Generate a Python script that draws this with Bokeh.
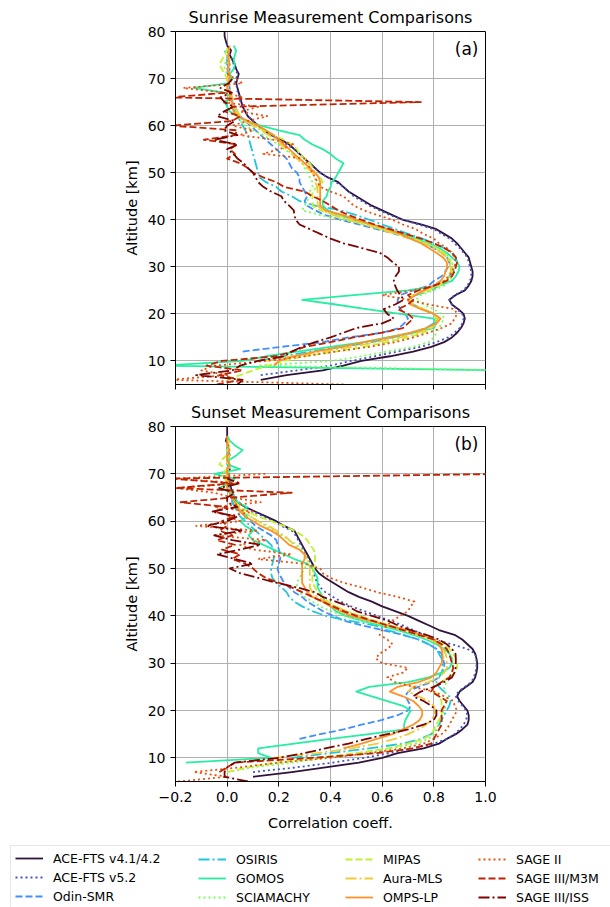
from bokeh.plotting import figure
from bokeh.layouts import column
from bokeh.models import (Range1d, FixedTicker, Label, Legend, LegendItem,
                          CustomLabelingPolicy)
from bokeh.palettes import turbo
from bokeh.embed import file_html
from bokeh.resources import INLINE

N = float("nan")

# altitude grid shared by every profile [km]
ALTITUDE = list(range(5, 81))

INSTRUMENTS = ["ACE-FTS v4.1/4.2", "ACE-FTS v5.2", "Odin-SMR", "OSIRIS", "GOMOS",
               "SCIAMACHY", "MIPAS", "Aura-MLS", "OMPS-LP", "SAGE II",
               "SAGE III/M3M", "SAGE III/ISS"]

X_TICKS = [-0.2, 0.0, 0.2, 0.4, 0.6, 0.8, 1.0]
X_TICK_LABELS = ["\u22120.2", "0.0", "0.2", "0.4", "0.6", "0.8", "1.0"]
Y_TICKS = [10, 20, 30, 40, 50, 60, 70, 80]

# ---- sunrise correlation profiles (5..80 km, 1 km steps) ----
sr_ace_v41 = [N, 0.13, 0.23, 0.37, 0.45, 0.52, 0.63, 0.72, 0.79, 0.84,
              0.87, 0.89, 0.905, 0.915, 0.92, 0.915, 0.895, 0.87, 0.86, 0.885,
              0.92, 0.935, 0.945, 0.95, 0.95, 0.945, 0.94, 0.935, 0.92, 0.905,
              0.89, 0.87, 0.84, 0.81, 0.75, 0.68, 0.64, 0.60, 0.56, 0.53,
              0.50, 0.47, 0.45, 0.43, 0.39, 0.36, 0.34, 0.32, 0.30, 0.28,
              0.26, 0.24, 0.21, 0.17, 0.14, 0.12, 0.10, 0.08, 0.07, 0.06,
              0.055, 0.05, 0.045, 0.04, 0.035, 0.04, 0.045, 0.035, 0.03, 0.02,
              0.01, 0.015, 0.0, -0.005, -0.01, -0.01]
sr_ace_v52 = [N, N, 0.13, 0.27, 0.40, 0.48, 0.57, 0.66, 0.75, 0.81,
              0.855, 0.88, 0.90, 0.91, 0.915, 0.91, 0.89, 0.87, 0.86, 0.88,
              0.915, 0.93, 0.94, 0.945, 0.945, 0.94, 0.935, 0.93, 0.915, 0.90,
              0.88, 0.86, 0.83, 0.80, 0.74, 0.68, 0.63, 0.59, 0.55, 0.52,
              0.49, 0.47, 0.45, 0.42, 0.39, 0.36, 0.34, 0.32, 0.30, 0.28,
              0.26, 0.23, 0.20, 0.17, 0.14, 0.12, 0.10, 0.08, 0.07, 0.06,
              0.05, 0.05, 0.04, 0.04, 0.03, 0.035, 0.04, 0.03, 0.025, 0.02,
              0.01, 0.01, 0.0, -0.005, N, N]
sr_odin = [N, N, N, N, N, N, N, 0.06, 0.21, 0.37,
           0.47, 0.60, 0.665, 0.685, 0.70, 0.69, 0.67, 0.66, 0.66, 0.67,
           0.72, 0.78, 0.80, 0.83, 0.845, 0.855, 0.86, 0.85, 0.83, 0.80,
           0.76, 0.71, 0.65, 0.58, 0.51, 0.44, 0.38, 0.34, 0.31, 0.30,
           0.31, 0.30, 0.29, 0.28, 0.28, 0.27, 0.25, 0.24, 0.23, 0.21,
           0.19, 0.17, 0.15, 0.13, 0.11, 0.09, 0.07, 0.05, 0.04, 0.03,
           0.02, 0.015, 0.01, 0.01, 0.005, 0.01, 0.0, 0.01, 0.0, 0.0,
           0.005, 0.0, N, N, N, N]
sr_osiris = [N, N, N, N, N, 0.12, 0.22, 0.32, 0.45, 0.56,
             0.64, 0.72, 0.77, 0.80, 0.81, 0.80, 0.76, 0.72, 0.70, 0.73,
             0.79, 0.82, 0.84, 0.86, 0.875, 0.885, 0.89, 0.885, 0.87, 0.84,
             0.80, 0.755, 0.70, 0.65, 0.60, 0.55, 0.50, 0.44, 0.34, 0.28,
             0.25, 0.21, 0.19, 0.15, 0.125, 0.12, 0.115, 0.11, 0.105, 0.10,
             0.095, 0.09, 0.085, 0.08, 0.07, 0.06, 0.05, 0.04, 0.03, 0.02,
             0.02, 0.01, 0.01, 0.0, 0.01, 0.02, 0.01, 0.0, 0.01, 0.0,
             0.0, -0.01, N, N, N, N]
sr_gomos = [N, N, N, 1.1, -0.25, 0.06, 0.15, 0.27, 0.40, 0.53,
            0.62, 0.72, 0.80, 0.81, 0.80, 0.67, 0.54, 0.42, 0.29, 0.49,
            0.70, 0.82, 0.87, 0.885, 0.895, 0.90, 0.89, 0.87, 0.85, 0.82,
            0.78, 0.73, 0.68, 0.62, 0.56, 0.49, 0.43, 0.39, 0.37, 0.37,
            0.385, 0.39, 0.40, 0.405, 0.42, 0.43, 0.44, 0.45, 0.42, 0.40,
            0.37, 0.33, 0.30, 0.28, 0.20, 0.13, 0.07, 0.04, 0.01, 0.0,
            -0.01, 0.02, -0.01, -0.13, 0.0, 0.02, 0.01, 0.025, 0.03, 0.025,
            0.03, 0.035, 0.025, N, N, N]
sr_sciamachy = [N, N, N, 1.1, 0.12, 0.40, 0.52, 0.62, 0.72, 0.78,
                0.80, 0.81, 0.82, 0.83, 0.84, 0.83, 0.80, 0.76, 0.73, 0.75,
                0.80, 0.84, 0.86, 0.87, 0.875, 0.875, 0.87, 0.86, 0.84, 0.81,
                0.77, 0.72, 0.66, 0.60, 0.53, 0.45, 0.36, 0.29, 0.30, 0.31,
                0.32, 0.32, 0.33, 0.33, 0.32, 0.31, 0.30, 0.29, 0.28, 0.25,
                0.22, 0.20, 0.17, 0.14, 0.10, 0.07, 0.05, 0.04, 0.03, 0.02,
                0.02, 0.01, 0.01, 0.0, 0.0, 0.01, 0.0, -0.01, -0.01, 0.0,
                0.0, 0.01, N, N, N, N]
sr_mipas = [N, 0.0, 0.05, 0.10, 0.16, 0.22, 0.30, 0.42, 0.53, 0.62,
            0.70, 0.76, 0.79, 0.81, 0.81, 0.80, 0.76, 0.72, 0.70, 0.72,
            0.78, 0.82, 0.845, 0.86, 0.87, 0.87, 0.865, 0.855, 0.84, 0.81,
            0.77, 0.72, 0.66, 0.60, 0.54, 0.48, 0.42, 0.36, 0.33, 0.33,
            0.33, 0.33, 0.35, 0.37, 0.36, 0.34, 0.33, 0.32, 0.30, 0.28,
            0.27, 0.25, 0.22, 0.18, 0.14, 0.10, 0.07, 0.05, 0.03, 0.02,
            0.02, 0.01, 0.01, 0.0, 0.0, 0.0, -0.01, -0.02, -0.03, -0.02,
            -0.01, 0.0, 0.0, N, N, N]
sr_aura_mls = [N, N, N, N, N, 0.15, 0.25, 0.37, 0.48, 0.58,
               0.67, 0.74, 0.79, 0.81, 0.815, 0.80, 0.76, 0.72, 0.70, 0.72,
               0.77, 0.81, 0.84, 0.855, 0.865, 0.865, 0.86, 0.85, 0.83, 0.80,
               0.76, 0.71, 0.65, 0.59, 0.53, 0.47, 0.41, 0.37, 0.35, 0.35,
               0.35, 0.35, 0.35, 0.34, 0.34, 0.33, 0.31, 0.29, 0.27, 0.25,
               0.23, 0.21, 0.19, 0.16, 0.13, 0.10, 0.07, 0.05, 0.04, 0.03,
               0.02, 0.02, 0.01, 0.01, 0.0, 0.0, 0.01, 0.01, 0.0, 0.01,
               0.0, 0.01, N, N, N, N]
sr_omps_lp = [N, N, N, N, 0.18, 0.20, 0.26, 0.34, 0.44, 0.53,
              0.63, 0.71, 0.77, 0.81, 0.826, 0.80, 0.75, 0.71, 0.70, 0.73,
              0.76, 0.80, 0.825, 0.84, 0.845, 0.852, 0.85, 0.835, 0.81, 0.78,
              0.75, 0.71, 0.67, 0.62, 0.56, 0.50, 0.45, 0.38, 0.36, 0.36,
              0.36, 0.36, 0.36, 0.36, 0.355, 0.34, 0.32, 0.30, 0.28, 0.26,
              0.24, 0.22, 0.20, 0.18, 0.15, 0.12, 0.08, 0.04, 0.025, 0.02,
              0.02, 0.01, 0.01, 0.0, 0.005, 0.01, 0.01, 0.0, 0.01, 0.005,
              0.005, 0.006, 0.01, N, N, N]
sr_sage2 = [0.45, -0.22, 0.0, -0.1, -0.05, 0.15, 0.30, 0.42, 0.55, 0.65,
            0.72, 0.78, 0.83, 0.87, 0.88, 0.89, 0.88, 0.78, 0.70, 0.60,
            0.72, 0.80, 0.84, 0.86, 0.87, 0.88, 0.885, 0.88, 0.87, 0.85,
            0.82, 0.80, 0.76, 0.73, 0.68, 0.64, 0.58, 0.53, 0.49, 0.47,
            0.45, 0.40, 0.36, 0.35, 0.34, 0.33, 0.32, 0.31, 0.30, 0.14,
            0.20, 0.26, 0.18, 0.05, 0.10, 0.02, 0.08, 0.155, 0.05, 0.12,
            -0.02, 0.06, -0.01, -0.17, 0.06, 0.03, 0.0, N, N, N,
            N, N, N, N, N, N]
sr_sage3_m3m = [-0.04, 0.05, -0.03, 0.06, -0.08, -0.02, 0.19, 0.25, 0.30, 0.40,
                0.49, 0.60, 0.68, 0.70, 0.72, 0.70, 0.66, 0.70, 0.72, 0.70,
                0.74, 0.80, 0.85, 0.87, 0.88, 0.885, 0.89, 0.885, 0.87, 0.84,
                0.80, 0.75, 0.69, 0.63, 0.57, 0.52, 0.47, 0.43, 0.40, 0.37,
                0.33, 0.30, 0.22, 0.19, 0.14, 0.10, 0.08, 0.05, 0.0, 0.03,
                0.01, 0.04, -0.09, 0.03, 0.04, -0.22, 0.02, 0.05, -0.01, 0.02,
                0.75, -0.22, 0.0, N, N, N, N, N, N, N,
                N, N, N, N, N, N]
sr_sage3_iss = [0.04, 0.06, -0.12, 0.02, 0.05, 0.12, 0.22, 0.25, 0.29, 0.34,
                0.40, 0.45, 0.50, 0.60, 0.645, 0.62, 0.606, 0.65, 0.684, 0.67,
                0.658, 0.65, 0.645, 0.652, 0.665, 0.665, 0.64, 0.62, 0.59, 0.52,
                0.45, 0.40, 0.36, 0.32, 0.28, 0.265, 0.26, 0.258, 0.24, 0.22,
                0.21, 0.17, 0.14, 0.12, 0.11, 0.10, 0.08, 0.064, 0.04, 0.025,
                0.0, 0.04, -0.05, 0.04, -0.013, 0.0, 0.03, -0.039, -0.013, 0.025,
                -0.01, -0.026, 0.018, -0.026, 0.006, 0.02, N, N, N, N,
                N, N, N, N, N, N]

# ---- sunset correlation profiles (5..80 km, 1 km steps) ----
ss_ace_v41 = [N, 0.10, 0.25, 0.38, 0.51, 0.60, 0.66, 0.76, 0.82, 0.85,
              0.885, 0.91, 0.93, 0.935, 0.935, 0.93, 0.915, 0.90, 0.89, 0.90,
              0.925, 0.95, 0.96, 0.965, 0.968, 0.968, 0.965, 0.96, 0.95, 0.93,
              0.91, 0.88, 0.82, 0.78, 0.74, 0.70, 0.65, 0.60, 0.56, 0.51,
              0.47, 0.44, 0.41, 0.38, 0.355, 0.34, 0.33, 0.32, 0.31, 0.30,
              0.29, 0.28, 0.27, 0.26, 0.22, 0.19, 0.15, 0.11, 0.07, 0.04,
              0.025, 0.02, 0.015, 0.01, 0.01, 0.005, 0.01, 0.005, 0.0, 0.01,
              0.0, 0.005, -0.005, 0.0, 0.0, 0.0]
ss_ace_v52 = [N, N, 0.10, 0.27, 0.41, 0.53, 0.63, 0.72, 0.80, 0.85,
              0.88, 0.90, 0.915, 0.925, 0.93, 0.925, 0.91, 0.895, 0.885, 0.895,
              0.92, 0.945, 0.955, 0.96, 0.965, 0.965, 0.965, 0.96, 0.93, 0.87,
              0.80, 0.76, 0.72, 0.68, 0.63, 0.58, 0.53, 0.48, 0.44, 0.41,
              0.38, 0.36, 0.35, 0.34, 0.335, 0.33, 0.325, 0.315, 0.305, 0.295,
              0.285, 0.275, 0.265, 0.25, 0.21, 0.18, 0.14, 0.10, 0.07, 0.045,
              0.03, 0.02, 0.02, 0.01, 0.01, 0.0, 0.01, 0.0, 0.01, 0.0,
              0.0, 0.005, 0.0, N, N, N]
ss_odin = [N, N, N, N, N, N, N, N, N, 0.28,
           0.36, 0.45, 0.52, 0.60, 0.66, 0.70, 0.71, 0.70, 0.69, 0.70,
           0.74, 0.79, 0.82, 0.83, 0.84, 0.84, 0.835, 0.83, 0.81, 0.78,
           0.74, 0.68, 0.60, 0.52, 0.45, 0.41, 0.37, 0.34, 0.31, 0.29,
           0.26, 0.24, 0.22, 0.21, 0.20, 0.195, 0.20, 0.205, 0.206, 0.20,
           0.195, 0.19, 0.17, 0.14, 0.11, 0.09, 0.07, 0.05, 0.03, 0.02,
           0.02, 0.01, 0.01, 0.0, 0.01, 0.0, 0.01, 0.0, 0.0, 0.01,
           0.0, 0.0, N, N, N, N]
ss_osiris = [N, N, N, N, N, 0.25, 0.40, 0.55, 0.68, 0.75,
             0.79, 0.81, 0.82, 0.83, 0.84, 0.85, 0.86, 0.865, 0.86, 0.84,
             0.82, 0.81, 0.82, 0.83, 0.835, 0.833, 0.83, 0.82, 0.81, 0.78,
             0.74, 0.68, 0.62, 0.57, 0.47, 0.38, 0.33, 0.29, 0.26, 0.24,
             0.23, 0.21, 0.19, 0.175, 0.17, 0.17, 0.175, 0.18, 0.18, 0.18,
             0.17, 0.15, 0.13, 0.11, 0.09, 0.07, 0.05, 0.04, 0.03, 0.02,
             0.02, 0.01, 0.01, 0.0, 0.01, 0.0, 0.0, 0.01, 0.0, 0.0,
             0.0, 0.0, N, N, N, N]
ss_gomos = [N, N, N, N, -0.16, 0.17, 0.12, 0.12, 0.26, 0.40,
            0.55, 0.685, 0.685, 0.69, 0.70, 0.71, 0.68, 0.62, 0.56, 0.50,
            0.55, 0.70, 0.78, 0.83, 0.86, 0.87, 0.87, 0.86, 0.84, 0.81,
            0.77, 0.72, 0.66, 0.59, 0.52, 0.46, 0.42, 0.40, 0.38, 0.37,
            0.36, 0.35, 0.35, 0.35, 0.34, 0.33, 0.31, 0.26, 0.22, 0.18,
            0.14, 0.10, 0.083, 0.10, 0.07, 0.05, 0.077, 0.057, 0.077, 0.04,
            0.03, 0.02, -0.033, 0.01, 0.03, -0.05, 0.05, 0.0, 0.01, 0.038,
            0.06, 0.03, 0.01, 0.0, N, N]
ss_sciamachy = [N, N, 0.0, 0.10, 0.25, 0.38, 0.52, 0.64, 0.73, 0.78,
                0.80, 0.81, 0.82, 0.82, 0.83, 0.84, 0.845, 0.85, 0.85, 0.84,
                0.84, 0.85, 0.86, 0.87, 0.875, 0.875, 0.87, 0.86, 0.85, 0.82,
                0.78, 0.73, 0.67, 0.60, 0.52, 0.45, 0.40, 0.36, 0.33, 0.30,
                0.28, 0.27, 0.27, 0.28, 0.29, 0.30, 0.31, 0.31, 0.30, 0.29,
                0.27, 0.24, 0.21, 0.18, 0.15, 0.12, 0.09, 0.06, 0.04, 0.03,
                0.02, 0.01, 0.01, 0.0, 0.0, 0.01, 0.0, 0.0, 0.01, 0.0,
                0.0, N, N, N, N, N]
ss_mipas = [N, N, 0.0, 0.08, 0.20, 0.35, 0.50, 0.62, 0.70, 0.76,
            0.79, 0.80, 0.81, 0.82, 0.83, 0.83, 0.83, 0.83, 0.82, 0.80,
            0.80, 0.83, 0.86, 0.88, 0.89, 0.89, 0.885, 0.875, 0.86, 0.84,
            0.80, 0.75, 0.69, 0.63, 0.57, 0.51, 0.46, 0.42, 0.39, 0.37,
            0.35, 0.34, 0.33, 0.33, 0.33, 0.335, 0.34, 0.34, 0.34, 0.335,
            0.32, 0.31, 0.29, 0.26, 0.22, 0.17, 0.12, 0.08, 0.05, 0.03,
            0.02, 0.01, 0.0, 0.0, -0.01, -0.02, 0.0, -0.03, -0.02, 0.0,
            0.0, 0.01, N, N, N, N]
ss_aura_mls = [N, N, N, N, N, 0.18, 0.35, 0.48, 0.58, 0.65,
               0.70, 0.74, 0.77, 0.79, 0.80, 0.805, 0.80, 0.78, 0.74, 0.70,
               0.72, 0.78, 0.82, 0.84, 0.85, 0.85, 0.85, 0.845, 0.835, 0.82,
               0.79, 0.74, 0.68, 0.62, 0.56, 0.51, 0.46, 0.42, 0.38, 0.35,
               0.33, 0.32, 0.32, 0.32, 0.32, 0.32, 0.32, 0.31, 0.30, 0.28,
               0.26, 0.24, 0.22, 0.19, 0.16, 0.12, 0.09, 0.06, 0.04, 0.03,
               0.02, 0.01, 0.01, 0.0, 0.0, 0.0, 0.01, 0.0, 0.0, 0.01,
               0.0, 0.0, 0.01, N, N, N]
ss_omps_lp = [N, N, N, N, N, N, N, 0.45, 0.52, 0.58,
              0.64, 0.68, 0.72, 0.745, 0.755, 0.755, 0.74, 0.72, 0.68, 0.63,
              0.66, 0.74, 0.79, 0.81, 0.82, 0.83, 0.835, 0.833, 0.83, 0.82,
              0.80, 0.75, 0.70, 0.62, 0.55, 0.48, 0.44, 0.40, 0.37, 0.33,
              0.31, 0.30, 0.29, 0.29, 0.29, 0.29, 0.29, 0.30, 0.30, 0.28,
              0.24, 0.22, 0.20, 0.17, 0.13, 0.10, 0.07, 0.05, 0.04, 0.03,
              0.02, 0.01, 0.0, 0.0, 0.01, 0.0, 0.0, 0.01, 0.0, 0.0,
              0.01, 0.0, 0.0, 0.0, N, N]
ss_sage2 = [-0.19, 0.0, -0.13, 0.05, 0.20, 0.40, 0.55, 0.68, 0.76, 0.80,
            0.83, 0.85, 0.86, 0.87, 0.88, 0.89, 0.88, 0.877, 0.84, 0.80,
            0.72, 0.65, 0.62, 0.68, 0.70, 0.60, 0.575, 0.59, 0.62, 0.64,
            0.62, 0.59, 0.60, 0.62, 0.64, 0.67, 0.70, 0.71, 0.725, 0.66,
            0.58, 0.52, 0.45, 0.40, 0.37, 0.36, 0.30, 0.12, 0.25, 0.10,
            0.05, 0.15, -0.05, 0.12, -0.12, 0.05, 0.0, 0.10, -0.05, 0.13,
            0.02, -0.05, -0.2, 0.05, -0.2, 0.15, N, N, N, N,
            N, N, N, N, N, N]
ss_sage3_m3m = [N, N, -0.03, 0.0, 0.03, 0.33, 0.58, 0.72, 0.79, 0.80,
                0.81, 0.82, 0.83, 0.83, 0.83, 0.83, 0.84, 0.85, 0.82, 0.79,
                0.80, 0.83, 0.86, 0.87, 0.875, 0.87, 0.865, 0.86, 0.85, 0.83,
                0.80, 0.74, 0.68, 0.62, 0.56, 0.50, 0.45, 0.41, 0.37, 0.33,
                0.29, 0.25, 0.20, 0.15, 0.12, 0.10, 0.07, 0.02, 0.05, -0.02,
                0.03, -0.04, 0.02, -0.03, 0.0, -0.02, 0.03, -0.05, 0.0, -0.18,
                0.02, 0.25, -0.2, 0.02, -0.22, 1.1, N, N, N, N,
                N, N, N, N, N, N]
ss_sage3_iss = [0.08, -0.01, -0.01, 0.0, 0.03, 0.20, 0.30, 0.38, 0.47, 0.54,
                0.62, 0.70, 0.76, 0.80, 0.81, 0.81, 0.79, 0.76, 0.72, 0.75,
                0.80, 0.84, 0.87, 0.88, 0.884, 0.885, 0.885, 0.884, 0.87, 0.85,
                0.82, 0.77, 0.71, 0.66, 0.62, 0.56, 0.50, 0.47, 0.42, 0.37,
                0.34, 0.27, 0.19, 0.12, 0.05, 0.01, 0.10, 0.03, -0.04, 0.05,
                0.13, 0.02, -0.05, 0.06, -0.08, 0.0, 0.04, -0.06, 0.04, 0.0,
                0.0, 0.03, -0.03, 0.05, 0.0, N, N, N, N, N,
                N, N, N, N, N, N]

SUNRISE = [sr_ace_v41, sr_ace_v52, sr_odin, sr_osiris, sr_gomos, sr_sciamachy,
           sr_mipas, sr_aura_mls, sr_omps_lp, sr_sage2, sr_sage3_m3m, sr_sage3_iss]
SUNSET = [ss_ace_v41, ss_ace_v52, ss_odin, ss_osiris, ss_gomos, ss_sciamachy,
          ss_mipas, ss_aura_mls, ss_omps_lp, ss_sage2, ss_sage3_m3m, ss_sage3_iss]

FONT = "DejaVu Sans"
COLORS = turbo(12)
DASHES = ["solid", "2 3", "7 3", "11 3 2 3"] * 3
LINE_W = 1.8


def panel(title, tag, profiles, border_top, border_bottom, x_labels):
    p = figure(width=610, height=border_top + 355 + border_bottom,
               x_range=Range1d(-0.2, 1.0), y_range=Range1d(5, 80),
               output_backend="svg", toolbar_location=None, title=title,
               min_border_left=175, min_border_right=125,
               min_border_top=border_top, min_border_bottom=border_bottom)
    p.title.text_font = FONT
    p.title.text_font_size = "16px"
    p.title.text_font_style = "normal"
    p.title.text_color = "black"
    p.title.align = "center"

    for vals, color, dash in zip(profiles, COLORS, DASHES):
        p.line(vals, ALTITUDE, line_color=color, line_width=LINE_W,
               line_dash=dash, line_join="round")

    p.xaxis.ticker = FixedTicker(ticks=X_TICKS)
    p.xaxis.major_label_overrides = dict(zip(X_TICKS, X_TICK_LABELS))
    p.yaxis.ticker = FixedTicker(ticks=Y_TICKS)
    for ax in (p.xaxis[0], p.yaxis[0]):
        ax.axis_line_color = "black"
        ax.major_tick_line_color = "black"
        ax.minor_tick_line_color = None
        ax.major_tick_out = 5
        ax.major_tick_in = 0
        ax.major_label_standoff = 5
        ax.major_label_text_font = FONT
        ax.major_label_text_font_size = "14px"
        ax.major_label_text_color = "black"
        ax.axis_label_text_font = FONT
        ax.axis_label_text_font_size = "14.5px"
        ax.axis_label_text_font_style = "normal"
        ax.axis_label_text_color = "black"
    p.yaxis.axis_label = "Altitude [km]"
    p.yaxis.axis_label_standoff = 5
    if x_labels:
        p.xaxis.axis_label = "Correlation coeff."
        p.xaxis.axis_label_standoff = 10
    else:
        # ticks only, no tick labels on the upper panel
        p.xaxis.major_label_policy = CustomLabelingPolicy(code="return new Set()")
        p.xaxis.major_label_text_font_size = "1px"
        p.xaxis.major_label_standoff = 0

    p.grid.grid_line_color = "#b0b0b0"
    p.grid.grid_line_width = 1
    p.outline_line_color = "black"
    p.outline_line_width = 1
    p.outline_line_alpha = 1

    p.add_layout(Label(x=1.0, y=80, x_offset=-7, y_offset=-7, text=tag,
                       text_align="right", text_baseline="top",
                       text_font=FONT, text_font_size="17px",
                       text_color="black"))
    return p


top = panel("Sunrise Measurement Comparisons", "(a)", SUNRISE, 29, 10, False)
bottom = panel("Sunset Measurement Comparisons", "(b)", SUNSET, 32, 56, True)

# legend strip below both panels (its own root, so its frame spans the full width)
leg = figure(width=610, height=70, x_range=Range1d(0, 1), y_range=Range1d(0, 1),
             output_backend="svg", toolbar_location=None, min_border=0,
             x_axis_location=None, y_axis_location=None, outline_line_color=None)
leg.grid.visible = False

COLUMN_X = [14, 198, 345, 478]
for c, x0 in enumerate(COLUMN_X):
    items = []
    for k in range(3 * c, 3 * c + 3):
        # off-range stand-in so each legend entry carries the series' line style
        r = leg.line([-2, -1], [-2, -1], line_color=COLORS[k], line_width=LINE_W,
                     line_dash=DASHES[k])
        items.append(LegendItem(label=INSTRUMENTS[k], renderers=[r]))
    boxed = (c == 0)
    pad = 4 if boxed else 0
    leg.add_layout(Legend(items=items, location=(x0 - pad, 2 - pad),
                          orientation="vertical", spacing=3, padding=pad, margin=0,
                          glyph_width=28, glyph_height=16, label_height=16,
                          label_standoff=10, label_width=600 if boxed else 20,
                          label_text_font=FONT, label_text_font_size="12.5px",
                          label_text_color="black",
                          border_line_color="#cccccc" if boxed else None,
                          border_line_width=1,
                          background_fill_color="white",
                          background_fill_alpha=1 if boxed else 0))

panels = column(top, bottom)
open("out.html", "w").write(file_html([panels, leg], INLINE))
